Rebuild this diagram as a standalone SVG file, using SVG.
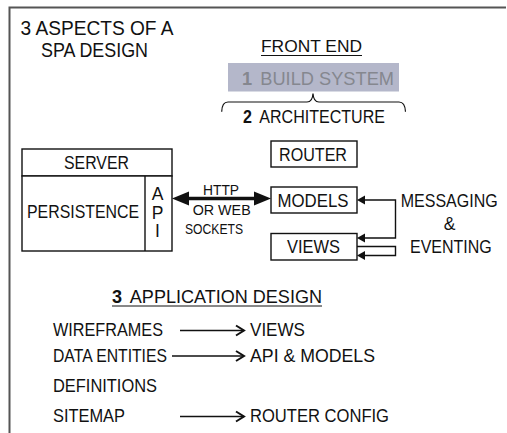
<svg xmlns="http://www.w3.org/2000/svg" width="507" height="433" viewBox="0 0 507 433">
<defs>
<style>
text{font-family:"Liberation Sans",Arial,sans-serif;fill:#111;}
.t{font-size:17.5px;}
.box{fill:#fff;stroke:#111;stroke-width:1.4;}
.ln{fill:none;stroke:#111;stroke-width:1.4;}
.ar{fill:none;stroke:#111;stroke-width:1.4;}
.head{fill:#111;stroke:none;}
.chev{fill:none;stroke:#111;stroke-width:2;stroke-linejoin:miter;}
</style>
<marker id="chev" markerUnits="userSpaceOnUse" markerWidth="12" markerHeight="14" refX="10" refY="7" orient="auto" viewBox="0 0 12 14">
<path d="M2,2 L10,7 L2,12" class="chev"/>
</marker>
</defs>
<rect width="507" height="433" fill="#fff"/>
<g id="frame">
<path d="M9.5,433 V7.5 H506" fill="none" stroke="#555" stroke-width="2"/>
</g>
<g id="title">
<text x="20.5" y="35" style="font-size:20px" textLength="153" lengthAdjust="spacingAndGlyphs">3 ASPECTS OF A</text>
<text x="41" y="57" style="font-size:20px" textLength="107" lengthAdjust="spacingAndGlyphs">SPA DESIGN</text>
</g>
<g id="front-end">
<text x="261" y="51.5" style="font-size:17px" textLength="101" lengthAdjust="spacingAndGlyphs">FRONT END</text>
<line x1="261" y1="55.5" x2="362" y2="55.5" stroke="#111" stroke-width="1"/>
</g>
<g id="build-system">
<rect x="228" y="63" width="171" height="28.5" fill="#b4b7ca"/>
<text x="242" y="85" style="font-size:18px;fill:#85878f" textLength="152" lengthAdjust="spacingAndGlyphs"><tspan font-weight="bold" style="fill:#85878f">1</tspan><tspan dx="8" style="fill:#85878f">BUILD SYSTEM</tspan></text>
</g>
<g id="architecture">
<path class="ln" d="M221.7,111.7 Q222,102 228,102 H307 Q312.5,102 313,93.5 Q313.5,102 319,102 H399 Q405,102 405.5,111.7" style="stroke-width:1.2"/>
<text x="243" y="122.5" style="font-size:17.5px" textLength="142" lengthAdjust="spacingAndGlyphs"><tspan font-weight="bold">2</tspan><tspan dx="8">ARCHITECTURE</tspan></text>
</g>
<g id="server">
<rect class="box" x="22" y="149" width="150" height="27"/>
<text class="t" x="64" y="169" textLength="65" lengthAdjust="spacingAndGlyphs">SERVER</text>
<rect class="box" x="22" y="176" width="150" height="75"/>
<line class="ln" x1="145" y1="176" x2="145" y2="251"/>
<text class="t" x="27" y="218" textLength="112" lengthAdjust="spacingAndGlyphs">PERSISTENCE</text>
<text class="t" x="157.5" y="200" text-anchor="middle">A</text>
<text class="t" x="157.5" y="218.5" text-anchor="middle">P</text>
<text class="t" x="157.5" y="237" text-anchor="middle">I</text>
</g>
<g id="router">
<rect class="box" x="271" y="141" width="86" height="26"/>
<text class="t" x="279" y="160.5" textLength="68" lengthAdjust="spacingAndGlyphs">ROUTER</text>
</g>
<g id="models">
<rect class="box" x="271" y="187" width="86" height="26"/>
<text class="t" x="277.5" y="206.5" textLength="71" lengthAdjust="spacingAndGlyphs">MODELS</text>
</g>
<g id="views">
<rect class="box" x="271" y="233.5" width="86" height="26.5"/>
<text class="t" x="287" y="252.5" textLength="53" lengthAdjust="spacingAndGlyphs">VIEWS</text>
</g>
<g id="messaging">
<text class="t" x="400.7" y="206.5" textLength="97" lengthAdjust="spacingAndGlyphs">MESSAGING</text>
<text class="t" x="449.5" y="230" text-anchor="middle">&amp;</text>
<text class="t" x="410" y="252.5" textLength="81.7" lengthAdjust="spacingAndGlyphs">EVENTING</text>
</g>
<g id="protocol-label">
<text x="203" y="194.5" style="font-size:15.5px" textLength="36" lengthAdjust="spacingAndGlyphs">HTTP</text>
<text x="192.7" y="214.5" style="font-size:15.5px" textLength="58" lengthAdjust="spacingAndGlyphs">OR WEB</text>
<text x="185" y="233.5" style="font-size:15.5px" textLength="58" lengthAdjust="spacingAndGlyphs">SOCKETS</text>
</g>
<g id="app-design">
<text x="112" y="303" style="font-size:18.5px" textLength="210" lengthAdjust="spacingAndGlyphs"><tspan font-weight="bold">3</tspan><tspan dx="8">APPLICATION DESIGN</tspan></text>
<line x1="112" y1="306" x2="322" y2="306" stroke="#111" stroke-width="1"/>
<text class="t" x="53" y="336" textLength="110" lengthAdjust="spacingAndGlyphs">WIREFRAMES</text>
<text class="t" x="250" y="336" textLength="55" lengthAdjust="spacingAndGlyphs">VIEWS</text>
<text class="t" x="53" y="362" textLength="114" lengthAdjust="spacingAndGlyphs">DATA ENTITIES</text>
<text class="t" x="250" y="362" textLength="125" lengthAdjust="spacingAndGlyphs">API &amp; MODELS</text>
<text class="t" x="53" y="391.5" textLength="104" lengthAdjust="spacingAndGlyphs">DEFINITIONS</text>
<text class="t" x="53" y="421.5" textLength="72" lengthAdjust="spacingAndGlyphs">SITEMAP</text>
<text class="t" x="250" y="421.5" textLength="139" lengthAdjust="spacingAndGlyphs">ROUTER CONFIG</text>
</g>
<g id="connectors">
<line x1="187" y1="198.5" x2="256" y2="198.5" stroke="#111" stroke-width="3.5"/>
<polygon class="head" points="172,198.5 189,191.5 189,205.5"/>
<polygon class="head" points="271,198.5 254,191.5 254,205.5"/>
<path class="ar" d="M364,200 H395.5 V238 H364"/>
<polygon class="head" points="357,200 365,195.5 365,204.5"/>
<polygon class="head" points="357,238 365,233.5 365,242.5"/>
<path class="ar" d="M357,246.5 H395.5 V255.5 H364"/>
<polygon class="head" points="357,255.5 365,251 365,260"/>
<line x1="180" y1="330.5" x2="244" y2="330.5" stroke="#111" stroke-width="1.3" marker-end="url(#chev)"/>
<line x1="172" y1="356" x2="244" y2="356" stroke="#111" stroke-width="1.3" marker-end="url(#chev)"/>
<line x1="180" y1="416.5" x2="244" y2="416.5" stroke="#111" stroke-width="1.3" marker-end="url(#chev)"/>
</g>
</svg>
